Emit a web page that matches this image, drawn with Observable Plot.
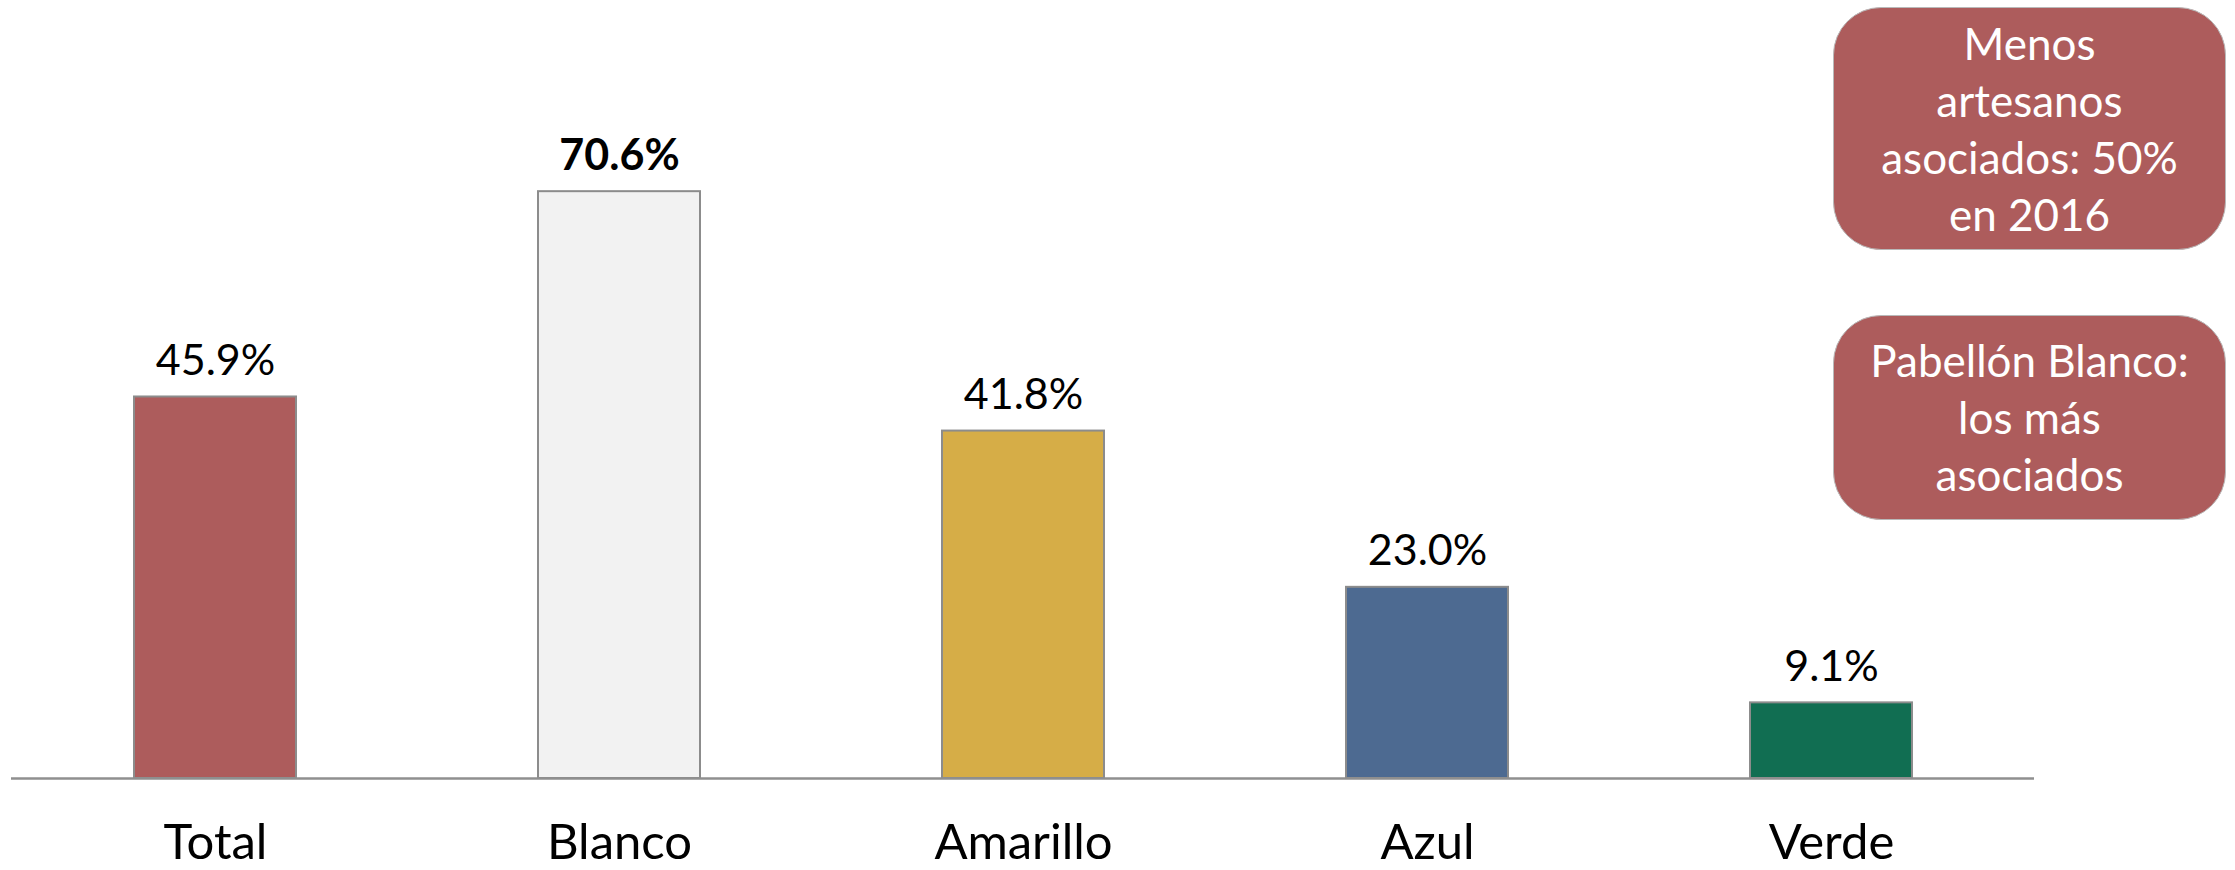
<!DOCTYPE html>
<html>
<head>
<meta charset="utf-8">
<script src="https://cdn.jsdelivr.net/npm/d3@7"></script>
<script src="https://cdn.jsdelivr.net/npm/@observablehq/plot@0.6"></script>
<style>
  html, body { margin: 0; padding: 0; background: #fff; }
  #wrap { position: relative; width: 2235px; height: 870px; }
  .box {
    position: absolute; background: #AD5C5C; color: #fff;
    border-radius: 48px; font-family: Lato, "Open Sans", sans-serif;
    font-size: 44px; line-height: 57px; text-align: center;
    display: flex; align-items: center; justify-content: center;
    box-sizing: border-box; border: 1.5px solid #b9b9b9;
  }
</style>
</head>
<body>
<div id="wrap"></div>
<script>
const categories = ["Total", "Blanco", "Amarillo", "Azul", "Verde"];
const values = [45.9, 70.6, 41.8, 23.0, 9.1];
const labels = ["45.9%", "70.6%", "41.8%", "23.0%", "9.1%"];
const colors = ["#AD5C5C", "#F2F2F2", "#D6AD47", "#4D6A91", "#116E52"];
const boldLabel = [false, true, false, false, false];
const notes = [
  ["Menos", "artesanos", "asociados: 50%", "en 2016"],
  ["Pabellón Blanco:", "los más", "asociados"]
];

const data = categories.map((c, i) => ({cat: c, value: values[i], label: labels[i], color: colors[i], bold: boldLabel[i]}));

const chart = Plot.plot({
  width: 2235,
  height: 870,
  marginTop: 0,
  marginBottom: 92,
  marginLeft: 11,
  marginRight: 201,
  style: {fontFamily: "Lato, 'Open Sans', sans-serif", background: "white", color: "black"},
  x: {domain: categories, paddingInner: 0.6, paddingOuter: 0.3, axis: null},
  y: {domain: [0, 93.6], axis: null},
  color: {type: "identity"},
  marks: [
    Plot.barY(data, {x: "cat", y: "value", fill: "color", stroke: "#8c8c8c", strokeWidth: 2}),
    Plot.ruleY([0], {stroke: "#8f8f8f", strokeWidth: 2.5}),
    Plot.text(data.filter(d => !d.bold), {x: "cat", y: "value", text: "label", lineAnchor: "bottom", dy: -22, fontSize: 43, fill: "black"}),
    Plot.text(data.filter(d => d.bold), {x: "cat", y: "value", text: "label", lineAnchor: "bottom", dy: -22, fontSize: 43, fontWeight: "bold", fill: "black"}),
    Plot.axisX({tickSize: 0, tickPadding: 46, fontSize: 49, label: null, color: "black"})
  ]
});

const wrap = document.getElementById("wrap");
wrap.appendChild(chart);

const boxPos = [
  {left: 1833, top: 7, width: 393, height: 243},
  {left: 1833, top: 315, width: 393, height: 205}
];
notes.forEach((lines, i) => {
  const div = document.createElement("div");
  div.className = "box";
  const p = boxPos[i];
  Object.assign(div.style, {left: p.left + "px", top: p.top + "px", width: p.width + "px", height: p.height + "px"});
  div.innerHTML = "<div>" + lines.join("<br>") + "</div>";
  wrap.appendChild(div);
});
</script>
</body>
</html>
